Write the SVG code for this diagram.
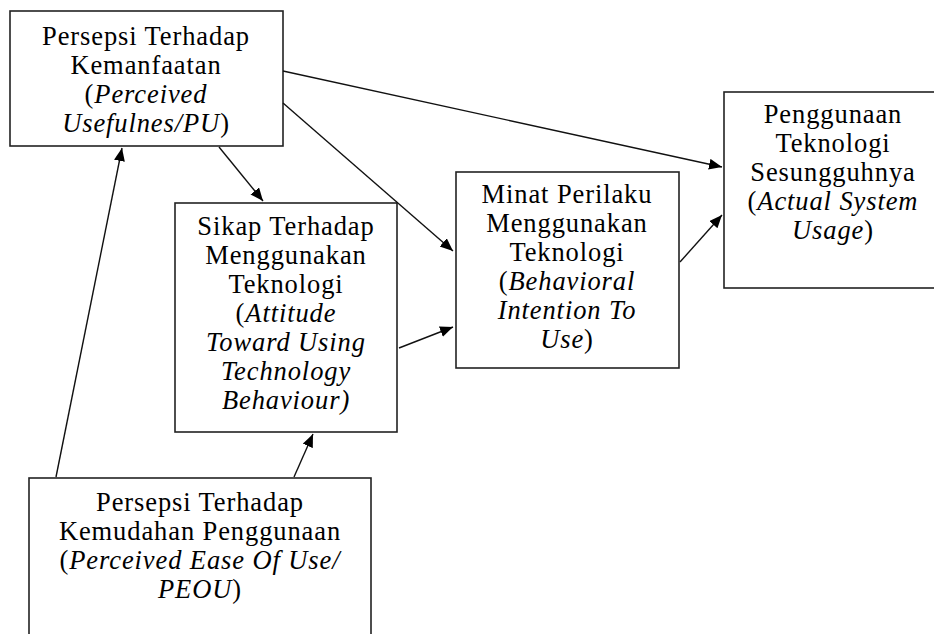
<svg xmlns="http://www.w3.org/2000/svg" width="934" height="634" viewBox="0 0 934 634">
<style>
.box{fill:#fff;stroke:#222;stroke-width:1.6}
.t{font-family:"Liberation Serif","Times New Roman",serif;font-size:26.5px;letter-spacing:0.9px;fill:#000;text-anchor:middle}
.i{font-style:italic}
.c{stroke:#111;stroke-width:1.4;fill:none;marker-end:url(#ah)}
</style>
<defs>
<marker id="ah" markerUnits="userSpaceOnUse" markerWidth="14" markerHeight="12" refX="13" refY="5.5" orient="auto">
<path d="M0,0 L13,5.5 L0,11 Z" fill="#000"/>
</marker>
</defs>
<g id="pu">
<rect class="box" x="10" y="11" width="273" height="135"/>
<text class="t" x="146" y="45">Persepsi Terhadap</text>
<text class="t" x="146" y="74">Kemanfaatan</text>
<text class="t" x="146" y="103">(<tspan class="i">Perceived</tspan></text>
<text class="t" x="146" y="132"><tspan class="i">Usefulnes/PU</tspan>)</text>
</g>
<g id="sikap">
<rect class="box" x="175" y="203" width="222" height="229"/>
<text class="t" x="286" y="235">Sikap Terhadap</text>
<text class="t" x="286" y="264">Menggunakan</text>
<text class="t" x="286" y="293">Teknologi</text>
<text class="t" x="286" y="322">(<tspan class="i">Attitude</tspan></text>
<text class="t i" x="286" y="351">Toward Using</text>
<text class="t i" x="286" y="380">Technology</text>
<text class="t i" x="286" y="409">Behaviour)</text>
</g>
<g id="minat">
<rect class="box" x="456" y="172" width="223" height="196"/>
<text class="t" x="567" y="203">Minat Perilaku</text>
<text class="t" x="567" y="232">Menggunakan</text>
<text class="t" x="567" y="261">Teknologi</text>
<text class="t" x="567" y="290">(<tspan class="i">Behavioral</tspan></text>
<text class="t i" x="567" y="319">Intention To</text>
<text class="t" x="567" y="348"><tspan class="i">Use</tspan>)</text>
</g>
<g id="penggunaan">
<rect class="box" x="724" y="92" width="218" height="196"/>
<text class="t" x="833" y="123">Penggunaan</text>
<text class="t" x="833" y="152">Teknologi</text>
<text class="t" x="833" y="181">Sesungguhnya</text>
<text class="t" x="833" y="210">(<tspan class="i">Actual System</tspan></text>
<text class="t" x="833" y="239"><tspan class="i">Usage</tspan>)</text>
</g>
<g id="peou">
<rect class="box" x="29" y="478" width="342" height="170"/>
<text class="t" x="200" y="511">Persepsi Terhadap</text>
<text class="t" x="200" y="540">Kemudahan Penggunaan</text>
<text class="t" x="200" y="569">(<tspan class="i">Perceived Ease Of Use/</tspan></text>
<text class="t" x="200" y="598"><tspan class="i">PEOU</tspan>)</text>
</g>
<g id="connectors">
<line class="c" x1="56" y1="477" x2="122" y2="148"/>
<line class="c" x1="294" y1="477" x2="313" y2="434"/>
<line class="c" x1="219" y1="147" x2="263" y2="201"/>
<line class="c" x1="283" y1="103" x2="453" y2="251"/>
<line class="c" x1="283" y1="71" x2="722" y2="167"/>
<line class="c" x1="399" y1="348" x2="453" y2="327"/>
<line class="c" x1="680" y1="262" x2="722" y2="215"/>
</g>
</svg>
